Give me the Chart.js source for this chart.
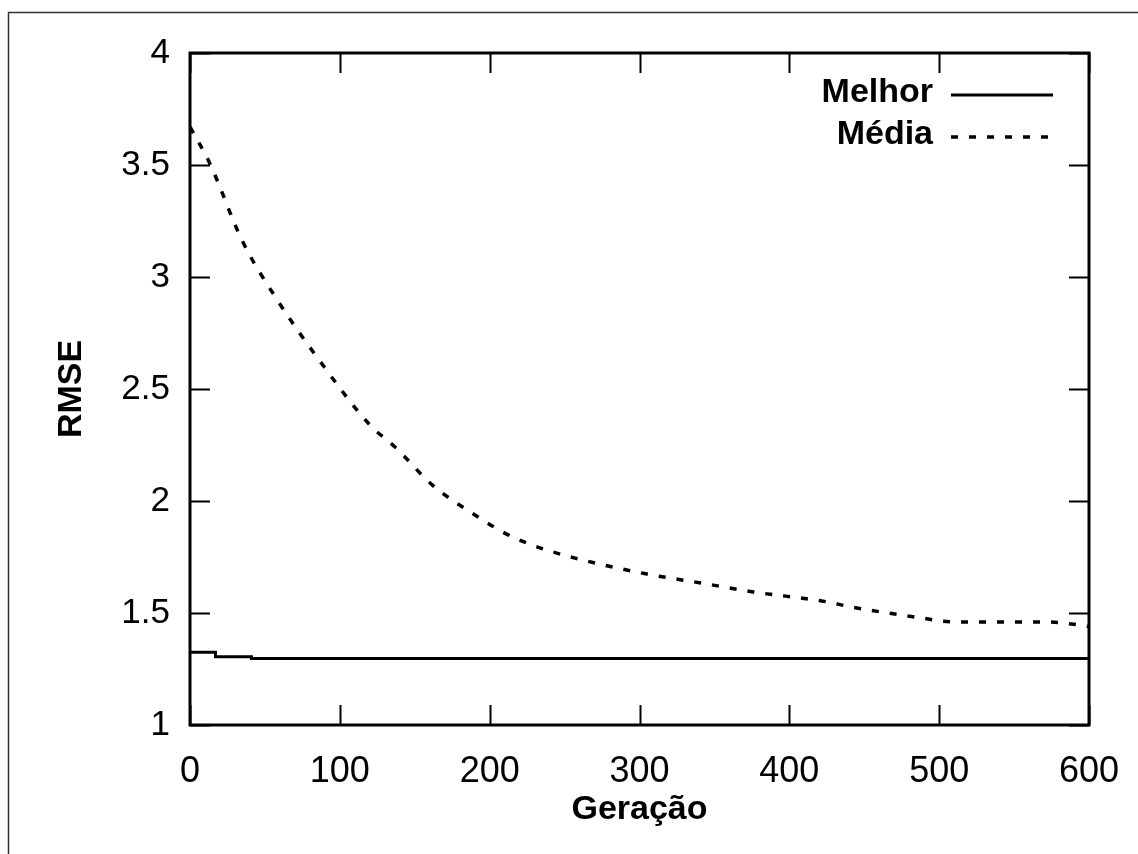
<!DOCTYPE html>
<html>
<head>
<meta charset="utf-8">
<script src="https://cdn.jsdelivr.net/npm/chart.js@4/dist/chart.umd.min.js"></script>
<style>
  html, body { margin: 0; padding: 0; background: #fff; }
  #wrap { width: 1138px; height: 854px; position: relative; }
</style>
</head>
<body>
<div id="wrap"><canvas id="rmse-chart" width="1138" height="854"></canvas></div>
<script>
// Melhor: melhor indivíduo da população
const melhorGen = [0, 17, 17, 41, 41, 600];
const melhorRmse = [1.325, 1.325, 1.305, 1.305, 1.297, 1.297];

// Média da população
const mediaGen = [0, 13, 35, 58, 85, 120, 137, 162, 192, 212, 234, 257, 305, 341, 376, 425, 439, 486, 510, 572, 583, 600];
const mediaRmse = [3.67, 3.51, 3.16, 2.90, 2.64, 2.34, 2.24, 2.07, 1.93, 1.85, 1.79, 1.745, 1.674, 1.634, 1.594, 1.55, 1.53, 1.48, 1.46, 1.46, 1.455, 1.44];

const xTicks = [0, 100, 200, 300, 400, 500, 600];
const yTicks = [1, 1.5, 2, 2.5, 3, 3.5, 4];

const FONT = "'Liberation Sans', Arial, sans-serif";

function toPoints(xs, ys) {
  return xs.map((x, i) => ({ x: x, y: ys[i] }));
}

// moldura externa, borda do gráfico, ticks internos e legenda
const framePlugin = {
  id: "framePlugin",
  beforeDraw(chart) {
    const ctx = chart.ctx;
    ctx.save();
    ctx.strokeStyle = "#333";
    ctx.lineWidth = 1.5;
    ctx.beginPath();
    ctx.moveTo(8.5, 854);
    ctx.lineTo(8.5, 12.5);
    ctx.lineTo(1138, 12.5);
    ctx.stroke();
    ctx.restore();
  },
  afterDatasetsDraw(chart) {
    const { ctx, chartArea: a, scales } = chart;
    const len = 20;
    ctx.save();
    ctx.strokeStyle = "#000";
    ctx.lineWidth = 2;
    ctx.beginPath();
    xTicks.forEach((v) => {
      const px = Math.round(scales.x.getPixelForValue(v)) + 0.5;
      ctx.moveTo(px, a.bottom); ctx.lineTo(px, a.bottom - len);
      ctx.moveTo(px, a.top); ctx.lineTo(px, a.top + len);
    });
    yTicks.forEach((v) => {
      const py = Math.round(scales.y.getPixelForValue(v)) + 0.5;
      ctx.moveTo(a.left, py); ctx.lineTo(a.left + len, py);
      ctx.moveTo(a.right, py); ctx.lineTo(a.right - len, py);
    });
    ctx.stroke();
    ctx.lineWidth = 3;
    ctx.strokeRect(a.left, a.top, a.right - a.left, a.bottom - a.top);

    // legenda
    ctx.font = "bold 34px " + FONT;
    ctx.fillStyle = "#000";
    ctx.textAlign = "right";
    ctx.textBaseline = "middle";
    chart.data.datasets.forEach((ds, i) => {
      const y = 93 + i * 42;
      ctx.fillText(ds.label, 933, y);
      ctx.lineWidth = ds.borderWidth;
      ctx.setLineDash(ds.borderDash || []);
      ctx.beginPath();
      ctx.moveTo(951, y + 2);
      ctx.lineTo(1053, y + 2);
      ctx.stroke();
    });
    ctx.restore();
  }
};

new Chart(document.getElementById("rmse-chart"), {
  type: "line",
  data: {
    datasets: [
      {
        label: "Melhor",
        data: toPoints(melhorGen, melhorRmse),
        borderColor: "#000",
        borderWidth: 3,
        pointRadius: 0,
        tension: 0
      },
      {
        label: "Média",
        data: toPoints(mediaGen, mediaRmse),
        borderColor: "#000",
        borderWidth: 3.5,
        borderDash: [7, 11],
        pointRadius: 0,
        cubicInterpolationMode: "monotone"
      }
    ]
  },
  options: {
    responsive: false,
    animation: false,
    layout: { padding: { top: 53, right: 49, left: 36, bottom: 0 } },
    plugins: { legend: { display: false }, tooltip: { enabled: false } },
    scales: {
      x: {
        type: "linear",
        min: 0,
        max: 600,
        afterBuildTicks(scale) { scale.ticks = xTicks.map((v) => ({ value: v })); },
        afterFit(scale) { scale.height = 129; },
        grid: { display: false },
        border: { display: false },
        ticks: { color: "#000", padding: 17, font: { family: FONT, size: 36 } },
        title: {
          display: true,
          text: "Geração",
          color: "#000",
          padding: { top: 0, bottom: 24 },
          font: { family: FONT, size: 34, weight: "bold" }
        }
      },
      y: {
        type: "linear",
        min: 1,
        max: 4,
        afterBuildTicks(scale) { scale.ticks = yTicks.map((v) => ({ value: v })); },
        afterFit(scale) { scale.width = 154; },
        grid: { display: false },
        border: { display: false },
        ticks: {
          color: "#000",
          padding: 12,
          font: { family: FONT, size: 35 },
          callback: (v) => String(v)
        },
        title: {
          display: true,
          text: "RMSE",
          color: "#000",
          padding: { top: 15, bottom: 0 },
          font: { family: FONT, size: 34, weight: "bold" }
        }
      }
    }
  },
  plugins: [framePlugin]
});
</script>
</body>
</html>
